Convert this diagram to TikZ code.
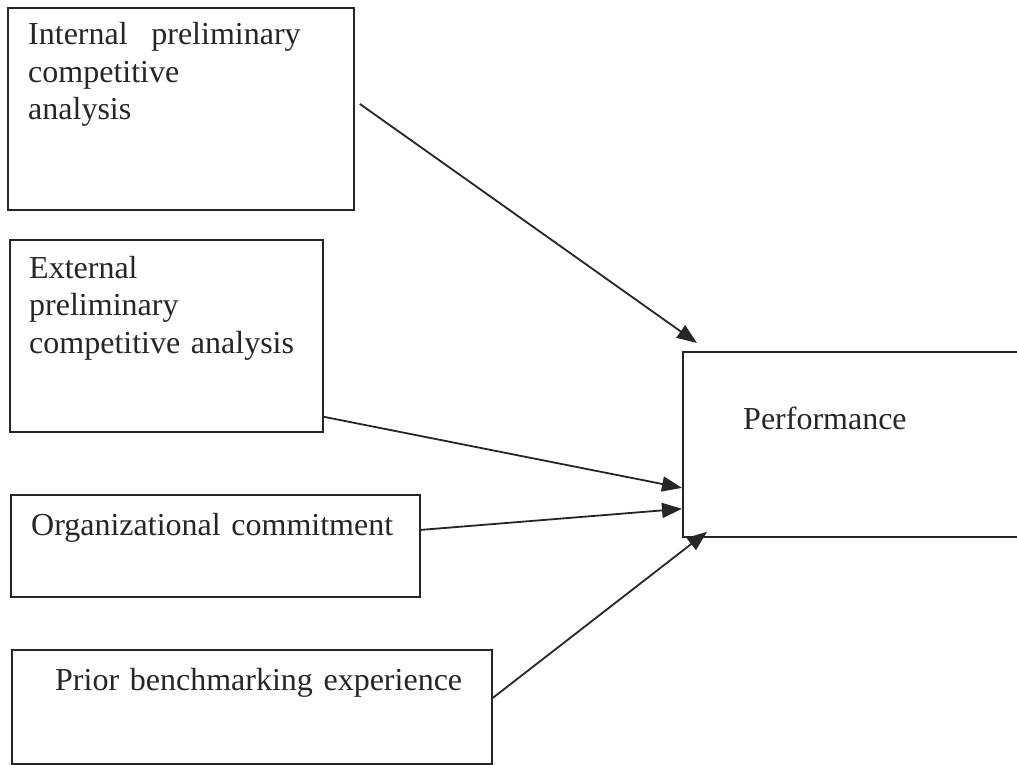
\documentclass[tikz,border=0pt]{standalone}
\usepackage{fontspec}
\setmainfont{Liberation Serif}
\usetikzlibrary{arrows.meta}
\tikzset{
	box/.style={draw=black!85, line width=1.8pt, anchor=north west, inner sep=0pt},
	txt/.style={anchor=base west, inner sep=0pt, text width=420pt, align=left, text=black!85,
		font=\fontsize{32}{37.5}\selectfont},
	link/.style={draw=black!85, line width=1.8pt, -{Triangle[length=20pt,width=15pt]}}
}
\begin{document}
\begin{tikzpicture}[x=1pt,y=-1pt]
	\clip (0,0) rectangle (1017,765);
	\fill [white] (0,0) rectangle (1017,765);
	\node [box, minimum width=346pt, minimum height=202pt] (int) at (7,7) {};
	\node [box, minimum width=313pt, minimum height=192pt] (ext) at (9,239) {};
	\node [box, minimum width=409pt, minimum height=102pt] (org) at (10,494) {};
	\node [box, minimum width=480pt, minimum height=114pt] (pri) at (11,649) {};
	\node [box, minimum width=343pt, minimum height=185pt] (perf) at (682,351) {};
	\node [txt] (intT) at (28,45) {Internal\hspace{13pt} preliminary\\ competitive\\ analysis};
	\node [txt] (extT) at (29,278) {External\\ preliminary\\ competitive analysis};
	\node [txt] (orgT) at (31,535) {Organizational commitment};
	\node [txt] (priT) at (55,690) {Prior benchmarking experience};
	\node [txt] (perfT) at (743,429) {Performance};
	\draw [link] ([shift={(5,-5)}]int.east) -- ([shift={(15,-8)}]perf.north west);
	\draw [link] ([shift={(0,-16)}]ext.south east) -- ([shift={(0,43.5)}]perf.west);
	\draw [link] ([shift={(0,-16)}]org.east) -- ([shift={(0,-29)}]perf.south west);
	\draw [link] ([shift={(0,-9)}]pri.east) -- ([shift={(25,-6)}]perf.south west);
\end{tikzpicture}
\end{document}
